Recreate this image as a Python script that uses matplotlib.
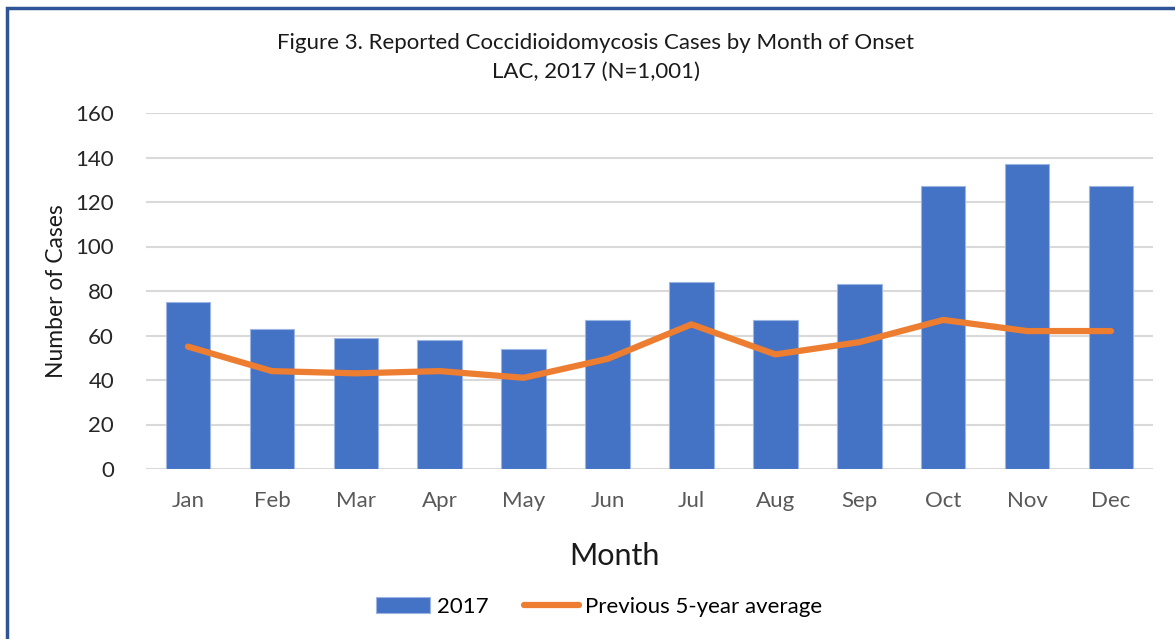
import matplotlib.pyplot as plt
from matplotlib.patches import Rectangle

months = ['Jan', 'Feb', 'Mar', 'Apr', 'May', 'Jun', 'Jul', 'Aug', 'Sep', 'Oct', 'Nov', 'Dec']
cases_2017 = [75, 63, 59, 58, 54, 67, 84, 67, 83, 127, 137, 127]
prev_avg = [55, 44, 43, 44, 41, 49.5, 65, 51.5, 57, 67, 62, 62]

plt.rcParams['font.family'] = ['Lato', 'DejaVu Sans']

fig = plt.figure(figsize=(11.75, 6.39), dpi=100)
ax = fig.add_axes([146 / 1175, 1 - 469 / 639, 1007 / 1175, 356 / 639])

x = range(len(months))
bars = ax.bar(x, cases_2017, width=0.53, color='#4472C4', edgecolor='#9DB5E3', linewidth=0.8,
              label='2017', zorder=2)
line, = ax.plot(x, prev_avg, color='#ED7D31', linewidth=4.5, solid_capstyle='round',
                label='Previous 5-year average', zorder=3)

ax.set_ylim(0, 160)
ax.set_xlim(-0.5, 11.5)
ax.set_yticks(range(0, 161, 20))
ax.set_xticks(list(x))
ax.set_xticklabels(months)
ax.grid(axis='y', color='#D9D9D9', linewidth=1.5, zorder=0)
for s in ax.spines.values():
    s.set_visible(False)
ax.tick_params(axis='both', length=0)
ax.tick_params(axis='y', labelsize=16, labelcolor='#262626', pad=23)
ax.tick_params(axis='x', labelsize=16, labelcolor='#595959', pad=16)

ax.set_xlabel('Month', fontsize=22, color='#1a1a1a')
ax.xaxis.set_label_coords(0.465, -0.205)
ax.set_ylabel('Number of Cases', fontsize=16.5, color='#1a1a1a', labelpad=6)

fig.text(0.507, 0.932, 'Figure 3. Reported Coccidioidomycosis Cases by Month of Onset',
         ha='center', va='center', fontsize=16, color='#1a1a1a')
fig.text(0.507, 0.887, 'LAC, 2017 (N=1,001)', ha='center', va='center',
         fontsize=16, color='#1a1a1a')

fig.legend([bars, line], ['2017', 'Previous 5-year average'], loc='center',
           bbox_to_anchor=(0.510, 0.05), ncol=2, frameon=False,
           fontsize=16, handlelength=2.45, columnspacing=1.6, handletextpad=0.3)

fig.patches.append(Rectangle((7 / 1175, -0.1), 1.2, 1.1 - 8 / 639,
                             transform=fig.transFigure, fill=False,
                             edgecolor='#2F5597', linewidth=2.5))

fig.savefig('out.png', dpi=100)
